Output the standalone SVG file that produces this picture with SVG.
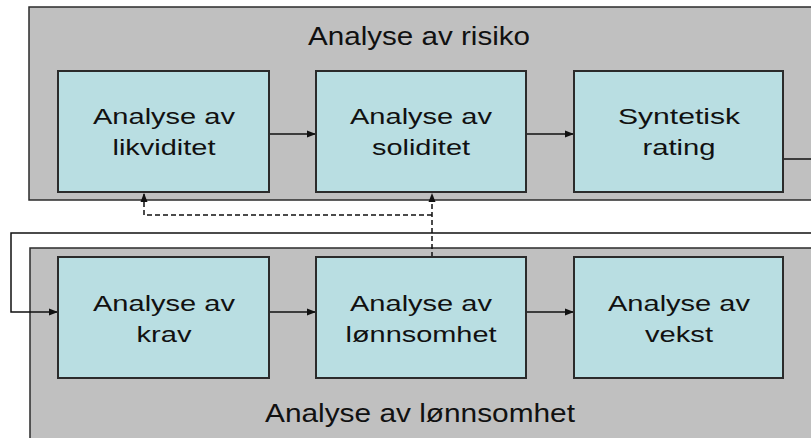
<svg xmlns="http://www.w3.org/2000/svg" width="811" height="438" viewBox="0 0 811 438">
<style>
.panel{fill:#c0c0c0;stroke:#2b2b2b;stroke-width:1.5}
.box{fill:#b9dee2;stroke:#2b2b2b;stroke-width:2}
.t{font-family:"Liberation Sans",Arial,sans-serif;font-size:22px;fill:#111;text-anchor:middle}
.title{font-family:"Liberation Sans",Arial,sans-serif;font-size:25px;fill:#111;text-anchor:middle}
.c{fill:none;stroke:#111;stroke-width:1.5}
.d{fill:none;stroke:#111;stroke-width:1.5;stroke-dasharray:5 3}
</style>
<defs>
<marker id="ah" markerUnits="userSpaceOnUse" markerWidth="10" markerHeight="8" refX="9" refY="4" orient="auto">
<path d="M0,0.5 L9,4 L0,7.5 Z" fill="#111"/>
</marker>
</defs>
<rect width="811" height="438" fill="#ffffff"/>
<g id="panel-risiko">
<rect class="panel" x="29" y="7" width="800" height="193"/>
<text class="title" x="419" y="45" textLength="222" lengthAdjust="spacingAndGlyphs">Analyse av risiko</text>
</g>
<g id="panel-lonnsomhet">
<rect class="panel" x="30" y="248" width="800" height="200"/>
<text class="title" x="420" y="422" textLength="310" lengthAdjust="spacingAndGlyphs">Analyse av lønnsomhet</text>
</g>
<g id="connectors">
<path class="c" d="M269,134 H316" marker-end="url(#ah)"/>
<path class="c" d="M526,134 H574" marker-end="url(#ah)"/>
<path class="c" d="M269,312 H316" marker-end="url(#ah)"/>
<path class="c" d="M526,312 H574" marker-end="url(#ah)"/>
<path class="c" d="M783,159 H812"/>
<path class="c" d="M812,233 H11 V312 H58" marker-end="url(#ah)"/>
<path class="d" d="M432,257 V193" marker-end="url(#ah)"/>
<path class="d" d="M432,215 H144 V193" marker-end="url(#ah)"/>
</g>
<g id="likviditet">
<rect class="box" x="58" y="71" width="211" height="121"/>
<text class="t" x="164" y="124" textLength="142" lengthAdjust="spacingAndGlyphs">Analyse av</text>
<text class="t" x="164" y="155" textLength="103" lengthAdjust="spacingAndGlyphs">likviditet</text>
</g>
<g id="soliditet">
<rect class="box" x="316" y="71" width="210" height="121"/>
<text class="t" x="421" y="124" textLength="142" lengthAdjust="spacingAndGlyphs">Analyse av</text>
<text class="t" x="421" y="155" textLength="98" lengthAdjust="spacingAndGlyphs">soliditet</text>
</g>
<g id="rating">
<rect class="box" x="574" y="71" width="209" height="121"/>
<text class="t" x="679" y="124" textLength="122" lengthAdjust="spacingAndGlyphs">Syntetisk</text>
<text class="t" x="679" y="155" textLength="73" lengthAdjust="spacingAndGlyphs">rating</text>
</g>
<g id="krav">
<rect class="box" x="58" y="257" width="211" height="121"/>
<text class="t" x="164" y="311" textLength="142" lengthAdjust="spacingAndGlyphs">Analyse av</text>
<text class="t" x="164" y="342" textLength="55" lengthAdjust="spacingAndGlyphs">krav</text>
</g>
<g id="lonnsomhet">
<rect class="box" x="316" y="257" width="210" height="121"/>
<text class="t" x="421" y="311" textLength="142" lengthAdjust="spacingAndGlyphs">Analyse av</text>
<text class="t" x="421" y="342" textLength="151" lengthAdjust="spacingAndGlyphs">lønnsomhet</text>
</g>
<g id="vekst">
<rect class="box" x="574" y="257" width="209" height="121"/>
<text class="t" x="679" y="311" textLength="142" lengthAdjust="spacingAndGlyphs">Analyse av</text>
<text class="t" x="679" y="342" textLength="68" lengthAdjust="spacingAndGlyphs">vekst</text>
</g>
</svg>
